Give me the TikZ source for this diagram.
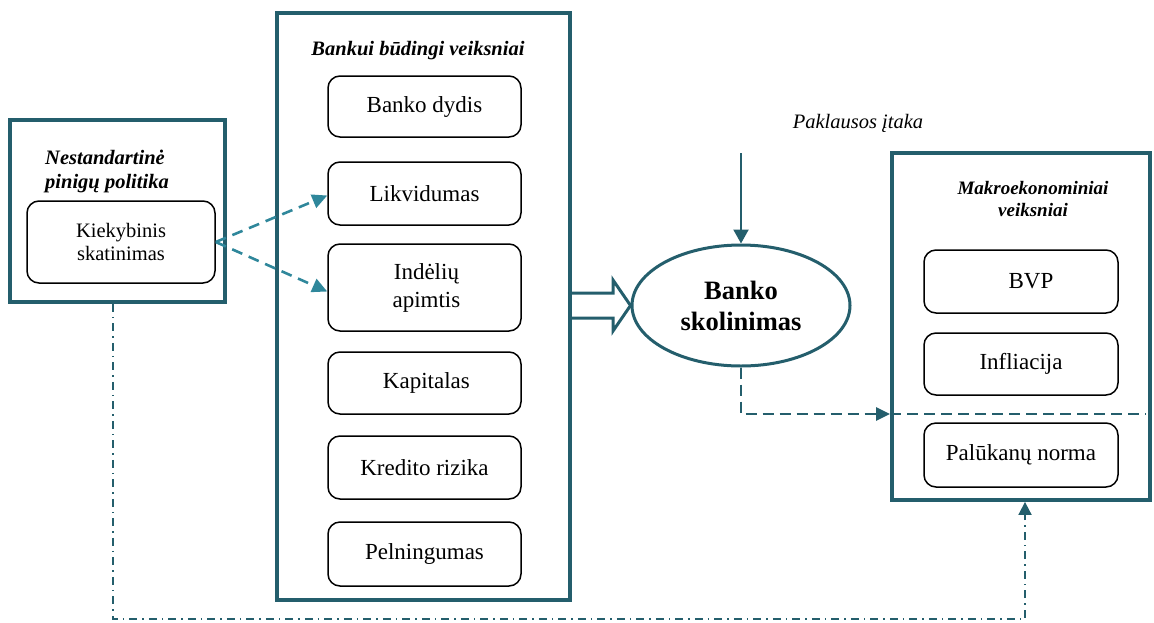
\documentclass[tikz,border=0pt]{standalone}
\usepackage{fontspec}
\setmainfont{Liberation Serif}
\usetikzlibrary{shapes.geometric,arrows.meta,calc}
\definecolor{dteal}{HTML}{245E6C}
\definecolor{lteal}{HTML}{2F879B}
\begin{document}
\begin{tikzpicture}[x=1pt,y=-1pt,
  outerbox/.style={draw=dteal,line width=3.8pt,inner sep=0pt},
  innerbox/.style={draw=black,line width=1.5pt,rounded corners=12pt,inner sep=0pt,align=center,font=\fontsize{23}{28}\selectfont},
  titletext/.style={font=\bfseries\itshape\fontsize{20.5}{24}\selectfont,inner sep=0pt},
  qearrow/.style={draw=lteal,line width=2.6pt,dash pattern=on 11pt off 7pt,-{Triangle[length=15pt,width=14pt]}},
  darkdash/.style={draw=dteal,line width=2.8pt,dash pattern=on 11pt off 6pt},
  dashdotline/.style={draw=dteal,line width=1.8pt,dash pattern=on 8pt off 5pt on 1.5pt off 5pt}
]
\useasboundingbox (0,0) rectangle (1154,622);
% outer boxes
\node[outerbox,minimum width=215pt,minimum height=182pt] (lbox) at (117.5,211) {};
\node[outerbox,minimum width=293pt,minimum height=587pt] (mbox) at (423.5,306.5) {};
\node[outerbox,minimum width=258pt,minimum height=347pt] (rbox) at (1021,326.5) {};
% titles
\node[titletext,align=left,anchor=west] (ltitle) at (45,171) {Nestandartinė\\pinigų politika};
\node[titletext] (mtitle) at (418,51) {Bankui būdingi veiksniai};
\node[titletext,align=center,font=\bfseries\itshape\fontsize{19}{22.5}\selectfont] (rtitle) at (1033,199) {Makroekonominiai\\veiksniai};
\node[inner sep=0pt,font=\itshape\fontsize{20.5}{24}\selectfont] (demand) at (858,123) {Paklausos įtaka};
% left inner
\node[innerbox,minimum width=188pt,minimum height=82pt,font=\fontsize{20.5}{23.5}\selectfont] (kiek) at (121,242) {Kiekybinis\\skatinimas};
% middle inner
\node[innerbox,minimum width=193pt,minimum height=61pt] (dydis) at (424.5,106.5) {Banko dydis};
\node[innerbox,minimum width=193pt,minimum height=63pt] (likv) at (424.5,193.5) {Likvidumas};
\node[innerbox,minimum width=193pt,minimum height=87pt] (indel) at (424.5,287.5) {\,Indėlių\\\,apimtis};
\node[innerbox,minimum width=193pt,minimum height=62pt] (kap) at (424.5,383) {\,Kapitalas};
\node[innerbox,minimum width=193pt,minimum height=63pt] (kred) at (424.5,467.5) {Kredito rizika};
\node[innerbox,minimum width=193pt,minimum height=64pt] (peln) at (424.5,554) {Pelningumas};
% right inner
\node[innerbox,minimum width=194pt,minimum height=63pt] (bvp) at (1021,281.5) {\hspace{20pt}BVP};
\node[innerbox,minimum width=194pt,minimum height=62pt] (infl) at (1021,364) {Infliacija};
\node[innerbox,minimum width=194pt,minimum height=64pt] (palu) at (1021,455) {Palūkanų norma};
% ellipse
\node[ellipse,draw=dteal,line width=3pt,minimum width=218pt,minimum height=121pt,inner sep=0pt,align=center,font=\bfseries\fontsize{26.5}{31}\selectfont] (ell) at (741,305.5) {Banko\\skolinimas};
% dashed arrows from QE
\draw[qearrow] (kiek.east) -- ($(likv.west)+(0,2)$);
\draw[qearrow] (kiek.east) -- ($(indel.west)+(0,4)$);
% hollow block arrow
\draw[dteal,line width=3pt,line join=miter] ($(mbox.east)+(0,-13.5)$) -- (613,293) -- (613,280) -- (ell.west) -- (613,331) -- (613,318) -- ($(mbox.east)+(0,11.5)$);
% demand arrow
\coordinate (dem) at (741,153);
\draw[dteal,line width=2.2pt,-{Triangle[length=14pt,width=15pt]}] (dem) -- (ell.north);
% dashed to macro box
\coordinate (dline) at (0,414);
\coordinate (dend) at (1146,414);
\draw[darkdash,-{Triangle[length=14pt,width=13pt]}] (ell.south) |- (rbox.west |- dline);
\draw[darkdash] (rbox.west |- dline) -- (dend);
% dash-dot feedback line
\coordinate (bot) at (0,619);
\draw[dashdotline,-{Triangle[length=13pt,width=13pt]}] ($(lbox.south)+(-4.5,0)$) -- ($(lbox.south |- bot)+(-4.5,0)$) -- ($(rbox.south |- bot)+(4,0)$) -- ($(rbox.south)+(4,0)$);
\end{tikzpicture}
\end{document}
